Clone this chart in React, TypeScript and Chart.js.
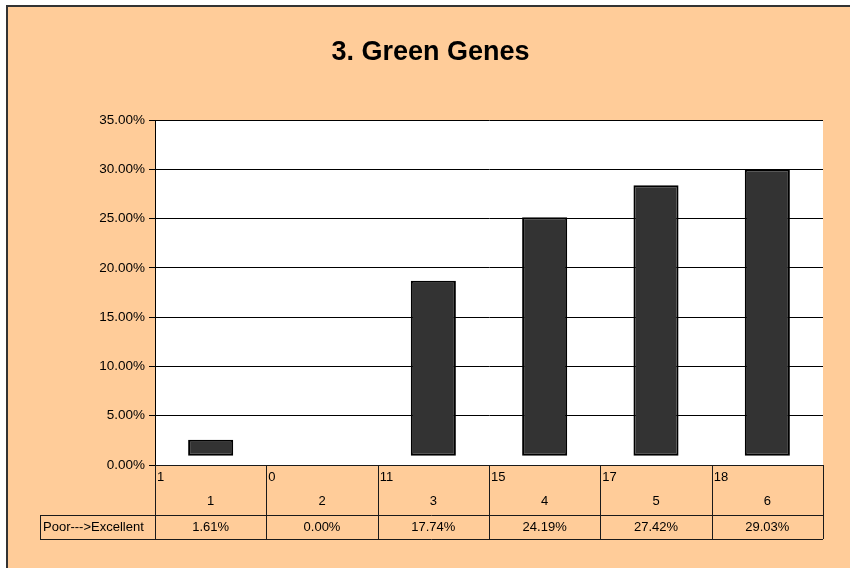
import React, { useEffect, useRef } from "react";
import { Chart, registerables } from "chart.js";

Chart.register(...registerables);

const TITLE = "3. Green Genes";
const CATEGORIES = ["1", "2", "3", "4", "5", "6"];
const COUNTS = [1, 0, 11, 15, 17, 18];
const PERCENTS = [1.61, 0.0, 17.74, 24.19, 27.42, 29.03];
const ROW_LABEL = "Poor--->Excellent";
const Y_MIN = 0;
const Y_MAX = 35;
const Y_STEP = 5;
// Excel draws these bars lifted slightly off the axis
const BAR_LIFT = 0.95;

const FONT = "'Liberation Sans', Arial, sans-serif";

export default function App() {
  const ref = useRef<HTMLCanvasElement | null>(null);

  useEffect(() => {
    if (!ref.current) return;

    const tablePlugin = {
      id: "dataTable",
      afterDraw(chart: any) {
        const ctx = chart.ctx as CanvasRenderingContext2D;
        const ca = chart.chartArea;
        const n = CATEGORIES.length;
        const w = (ca.right - ca.left) / n;
        const r1Top = ca.bottom;
        const r1Bot = ca.bottom + 50;
        const r2Bot = r1Bot + 24;
        const labelLeft = 40;
        ctx.save();
        ctx.strokeStyle = "#1a1a1a";
        ctx.lineWidth = 1;
        ctx.beginPath();
        ctx.moveTo(ca.left, r1Top + 0.5);
        ctx.lineTo(ca.right, r1Top + 0.5);
        ctx.moveTo(labelLeft, r1Bot + 0.5);
        ctx.lineTo(ca.right, r1Bot + 0.5);
        ctx.moveTo(labelLeft, r2Bot + 0.5);
        ctx.lineTo(ca.right, r2Bot + 0.5);
        ctx.moveTo(labelLeft + 0.5, r1Bot);
        ctx.lineTo(labelLeft + 0.5, r2Bot);
        for (let i = 0; i <= n; i++) {
          const x = Math.round(ca.left + i * w) + 0.5;
          ctx.moveTo(x, r1Top);
          ctx.lineTo(x, r2Bot);
        }
        ctx.stroke();

        ctx.fillStyle = "#000";
        ctx.font = `13px ${FONT}`;
        ctx.textBaseline = "middle";
        for (let i = 0; i < n; i++) {
          const x0 = ca.left + i * w;
          ctx.textAlign = "left";
          ctx.fillText(String(COUNTS[i]), x0 + 2, r1Top + 12);
          ctx.textAlign = "center";
          ctx.fillText(CATEGORIES[i], x0 + w / 2, r1Top + 36);
          ctx.fillText(PERCENTS[i].toFixed(2) + "%", x0 + w / 2, r1Bot + 12.5);
        }
        ctx.textAlign = "left";
        ctx.fillText(ROW_LABEL, labelLeft + 3, r1Bot + 12.5);

        ctx.font = `bold 27px ${FONT}`;
        ctx.textAlign = "center";
        ctx.textBaseline = "alphabetic";
        ctx.fillText(TITLE, 430.5, 60);
        ctx.restore();
      },
    };

    const chart = new Chart(ref.current, {
      type: "bar",
      data: {
        labels: CATEGORIES,
        datasets: [
          {
            data: PERCENTS.map((v) => (v > 0 ? [BAR_LIFT, v + BAR_LIFT] : null)) as any,
            backgroundColor: "#333333",
            borderColor: "#000000",
            borderWidth: 2,
            borderSkipped: false,
            barPercentage: 0.405,
            categoryPercentage: 1,
          },
        ],
      },
      options: {
        responsive: false,
        animation: false,
        layout: { padding: { left: 0, right: 27, top: 120, bottom: 103 } },
        plugins: {
          legend: { display: false },
          title: { display: false },
          tooltip: { enabled: false },
        },
        scales: {
          x: { display: false },
          y: {
            min: Y_MIN,
            max: Y_MAX,
            afterFit(scale: any) {
              scale.width = 155;
            },
            ticks: {
              stepSize: Y_STEP,
              color: "#000",
              font: { family: FONT, size: 13.5 },
              padding: 4,
              callback: (v: any) => Number(v).toFixed(2) + "%",
            },
            grid: {
              color: "#000",
              lineWidth: 1,
              tickLength: 6,
              drawTicks: true,
            },
            border: { display: true, color: "#000", width: 1 },
          },
        },
      },
      plugins: [
        {
          id: "plotBg",
          beforeDraw(chart: any) {
            const { ctx, chartArea: ca } = chart;
            ctx.save();
            ctx.fillStyle = "#ffffff";
            ctx.fillRect(ca.left, ca.top, ca.right - ca.left, ca.bottom - ca.top);
            ctx.restore();
          },
        },
        tablePlugin,
      ],
    });
    return () => chart.destroy();
  }, []);

  return (
    <div
      style={{
        position: "fixed",
        left: 0,
        top: 0,
        width: 850,
        height: 568,
        background: "#ffffff",
        overflow: "hidden",
      }}
    >
      <div
        style={{
          position: "absolute",
          left: 6,
          top: 5,
          width: 870,
          height: 590,
          background: "#FFCC99",
          border: "2px solid #333333",
        }}
      />
      <canvas
        ref={ref}
        width={850}
        height={568}
        style={{ position: "absolute", left: 0, top: 0, width: 850, height: 568 }}
      />
    </div>
  );
}
